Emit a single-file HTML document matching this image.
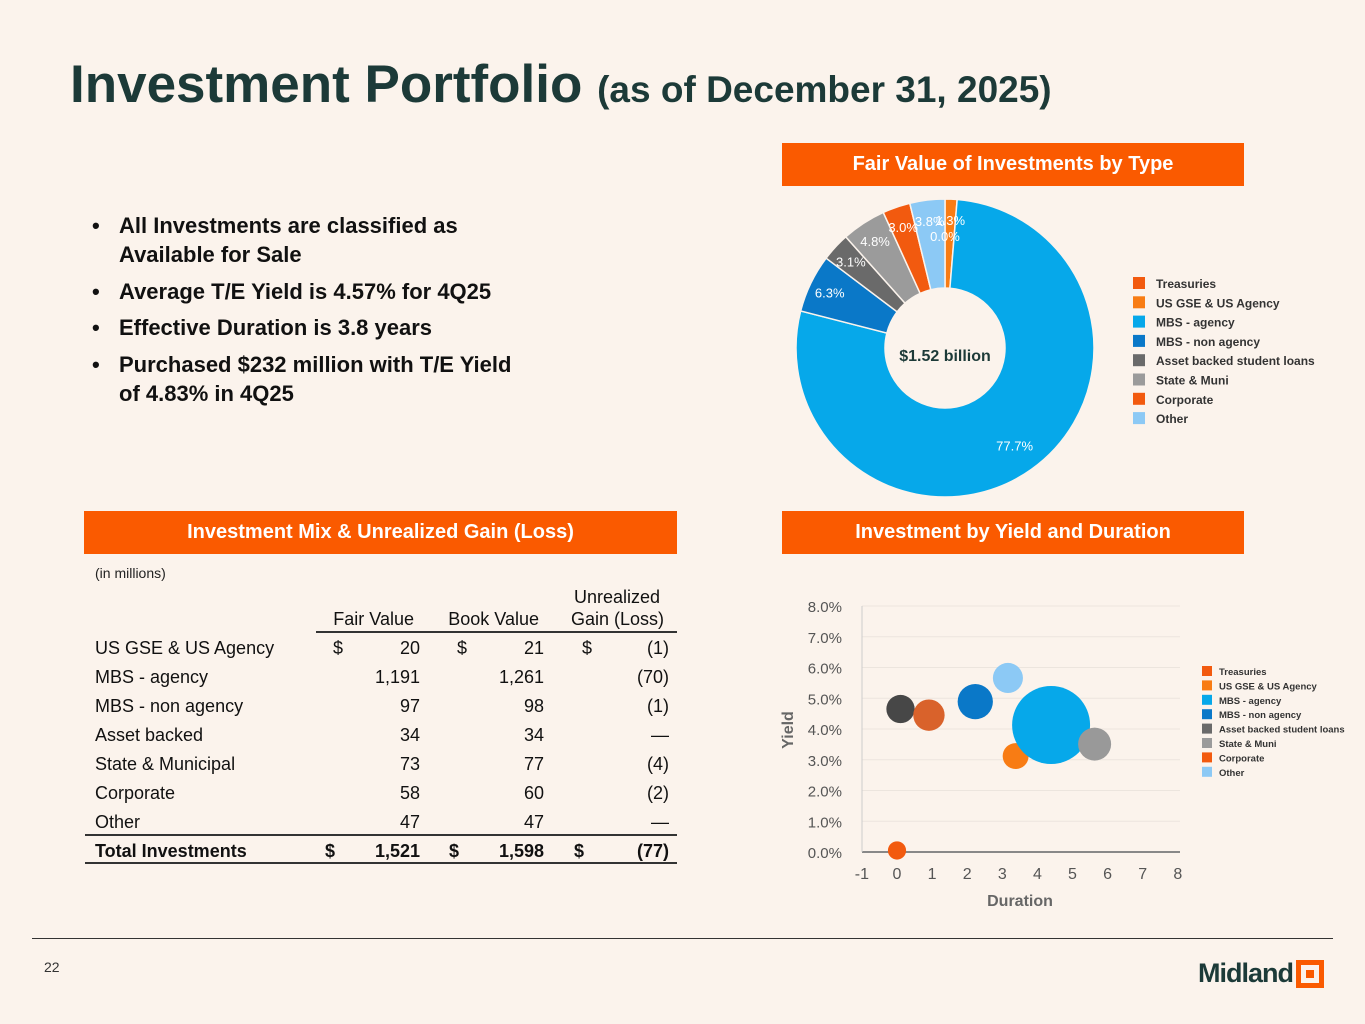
<!DOCTYPE html>
<html><head><meta charset="utf-8"><style>
body{margin:0;width:1365px;height:1024px;background:#fbf3ec;position:relative;overflow:hidden;font-family:"Liberation Sans",sans-serif;}
.a{position:absolute;}
.title{left:70px;top:54px;font-size:53px;font-weight:bold;color:#1c3a38;white-space:nowrap;}
.title span{font-size:37px;}
.hdr{background:#fa5a00;color:#fff;font-weight:bold;font-size:20px;text-align:center;line-height:43px;height:43px;}
.bul{left:92px;font-size:22px;font-weight:bold;color:#111;line-height:29px;}
.bul b{position:absolute;left:0;}
.bul div{padding-left:27px;}
.t{font-size:18px;color:#111;white-space:nowrap;}
.r{text-align:right;}
</style></head><body>
<div class="a title">Investment Portfolio <span>(as of December 31, 2025)</span></div>

<div class="a hdr" style="left:782px;top:143px;width:462px;">Fair Value of Investments by Type</div>
<div class="a hdr" style="left:84px;top:511px;width:593px;">Investment Mix &amp; Unrealized Gain (Loss)</div>
<div class="a hdr" style="left:782px;top:511px;width:462px;">Investment by Yield and Duration</div>

<div class="a bul" style="top:211px;width:460px"><b>•</b><div>All Investments are classified as Available for Sale</div></div>
<div class="a bul" style="top:277px;width:480px"><b>•</b><div>Average T/E Yield is 4.57% for 4Q25</div></div>
<div class="a bul" style="top:313px;width:480px"><b>•</b><div>Effective Duration is 3.8 years</div></div>
<div class="a bul" style="top:350px;width:470px"><b>•</b><div>Purchased $232 million with T/E Yield<br>of 4.83% in 4Q25</div></div>

<div class="a" style="left:95px;top:565px;font-size:14px;color:#222">(in millions)</div>
<div id="tbl"></div>

<svg class="a" style="left:0;top:0" width="1365" height="1024" id="charts"></svg>

<div class="a" style="left:32px;top:938px;width:1301px;height:1px;background:#333"></div>
<div class="a" style="left:44px;top:959px;font-size:14px;color:#333">22</div>
<div class="a" style="left:1198px;top:958px;font-size:27px;font-weight:bold;color:#1c3a38;letter-spacing:-1px">Midland</div>
<div class="a" style="left:1296px;top:960px;width:18px;height:18px;border:5px solid #fa5a00"><div style="margin:5px;width:8px;height:8px;background:#fa5a00"></div></div>

<script>
// ---- table data ----
const rowLabels=["US GSE & US Agency","MBS - agency","MBS - non agency","Asset backed","State & Municipal","Corporate","Other","Total Investments"];
const fairVals=["20","1,191","97","34","73","58","47","1,521"];
const bookVals=["21","1,261","98","34","77","60","47","1,598"];
const gainVals=["(1)","(70)","(1)","—","(4)","(2)","—","(77)"];
// ---- donut data ----
const pieCats=["Treasuries","US GSE & US Agency","MBS - agency","MBS - non agency","Asset backed student loans","State & Muni","Corporate","Other"];
const pieVals=[0.0,1.3,77.7,6.3,3.1,4.8,3.0,3.8];
const pieColors=["#f25a0f","#f87c14","#06a8ea","#0a78c8","#6a6a6a","#9b9b9b","#f25a0f","#8cc9f5"];
// ---- bubble data ----
const bubDur=[0.0,3.38,4.39,2.23,0.1,5.63,0.91,3.16];
const bubYield=[0.05,3.12,4.13,4.89,4.65,3.51,4.45,5.66];
const bubSize=[0,20,1191,97,34,73,58,47];
const bubColors=["#f25a0f","#f87c14","#06a8ea","#0a78c8","#474747","#999999","#d9622b","#8cc9f5"];
const yTicks=[0,1,2,3,4,5,6,7,8];
const xTicks=[-1,0,1,2,3,4,5,6,7,8];

const tbl=document.getElementById('tbl');
function add(txt,l,t,w,cls,bold,name){
  const d=document.createElement('div');
  d.className='a t '+(cls||'');d.style.left=l+'px';d.style.top=t+'px';if(w)d.style.width=w+'px';
  if(bold)d.style.fontWeight='bold';d.textContent=txt;
  
  
  tbl.appendChild(d);
}
add('Fair Value',300,609,114,'r',false,'col-fair-value');
add('Book Value',420,609,119,'r',false,'col-book-value');
add('Unrealized',540,587,120,'r',false,'col-unrealized');
add('Gain (Loss)',540,609,124,'r',false,'col-gain-loss');
rowLabels.forEach((lab,i)=>{
  const y=638+i*29, b=i==7;
  add(lab,95,y,0,'',b,'row-label');
  if(i==0||b){add('$',333+(b?-8:0),y,0,'',b,'dollar');add('$',457+(b?-8:0),y,0,'',b,'dollar');add('$',582+(b?-8:0),y,0,'',b,'dollar');}
  add(fairVals[i],340,y,80,'r',b,'fair-value-cell');
  add(bookVals[i],464,y,80,'r',b,'book-value-cell');
  add(gainVals[i],588,y,81,'r',b,'gain-cell');
});
[[316,631,361,2],[85,834,592,2],[85,862,592,2]].forEach(a=>{
  const d=document.createElement('div');d.className='a';
  d.style.cssText=`left:${a[0]}px;top:${a[1]}px;width:${a[2]}px;height:${a[3]}px;background:#333`;
  
  
  tbl.appendChild(d);
});

const NS='http://www.w3.org/2000/svg';
const svg=document.getElementById('charts');
function el(tag,attrs,txt){const e=document.createElementNS(NS,tag);for(const k in attrs)e.setAttribute(k,attrs[k]);if(txt!=null)e.textContent=txt;svg.appendChild(e);return e;}
const LF='"Liberation Sans",sans-serif';

// donut
const cx=945,cy=348,R=149,Ri=60;
let acc=0;const tot=pieVals.reduce((a,b)=>a+b,0);
function pt(a,r){return [cx+r*Math.sin(a),cy-r*Math.cos(a)];}
const labelPos=[];
pieVals.forEach((v,i)=>{
  const a0=acc/tot*2*Math.PI;acc+=v;const a1=acc/tot*2*Math.PI;
  if(v>0){
    const large=(a1-a0)>Math.PI?1:0;
    const p0=pt(a0,R),p1=pt(a1,R),q1=pt(a1,Ri),q0=pt(a0,Ri);
    const s=el('path',{d:`M${p0}L${p0}A${R},${R} 0 ${large} 1 ${p1}L${q1}A${Ri},${Ri} 0 ${large} 0 ${q0}Z`,fill:pieColors[i],stroke:'#fbf3ec','stroke-width':1.5});
    
    
  }
  const am=(a0+a1)/2;const rr=i==0?112:(i==2?120:128);labelPos.push([pt(am,rr),v]);
});
labelPos.forEach(([lp,v])=>{
  const t=el('text',{x:lp[0],y:lp[1]+5,'text-anchor':'middle','font-size':13,fill:'#fff','font-family':LF},v.toFixed(1)+'%');
  
  
});
const ct=el('text',{x:cx,y:cy+13,'text-anchor':'middle','font-size':16,'font-weight':'bold',fill:'#1c3a38','font-family':LF},'$1.52 billion');


pieCats.forEach((c,i)=>{
  const y=277+i*19.3;
  const r=el('rect',{x:1133,y:y,width:12,height:12,fill:pieColors[i]});
  
  
  const t=el('text',{x:1156,y:y+11,'font-size':12,'font-weight':'bold',fill:'#333','font-family':LF},c);
  
  
});

// bubble chart
const X=d=>897+d*35.1, Y=v=>852-v*30.75;
yTicks.forEach(v=>{
  const g=el('line',{x1:862,x2:1180,y1:Y(v),y2:Y(v),stroke:v==0?'#888':'#ece5de','stroke-width':v==0?2:1});
  
  
  const t=el('text',{x:842,y:Y(v)+6,'text-anchor':'end','font-size':15,fill:'#555','font-family':LF},v.toFixed(1)+'%');
  
  
});
const ax=el('line',{x1:862,x2:862,y1:Y(8),y2:Y(0),stroke:'#ccc','stroke-width':1});


xTicks.forEach(v=>{
  const t=el('text',{x:X(v),y:879,'text-anchor':'middle','font-size':16,fill:'#555','font-family':LF},String(v));
  
  
});
const xt=el('text',{x:1020,y:906,'text-anchor':'middle','font-size':16,'font-weight':'bold',fill:'#666','font-family':LF},'Duration');


const yt=el('text',{x:0,y:0,'text-anchor':'middle','font-size':16,'font-weight':'bold',fill:'#666','font-family':LF,transform:'translate(793,730) rotate(-90)'},'Yield');


bubDur.forEach((d,i)=>{
  const r=9.1+0.866*Math.sqrt(bubSize[i]);
  const c=el('circle',{cx:X(d),cy:Y(bubYield[i]),r:r,fill:bubColors[i]});
  
  
});
pieCats.forEach((c,i)=>{
  const y=666+i*14.4;
  const r=el('rect',{x:1202,y:y,width:10,height:10,fill:pieColors[i]});
  
  
  const t=el('text',{x:1219,y:y+9,'font-size':9.5,'font-weight':'bold',fill:'#333','font-family':LF},c);
  
  
});
</script>
</body></html>
